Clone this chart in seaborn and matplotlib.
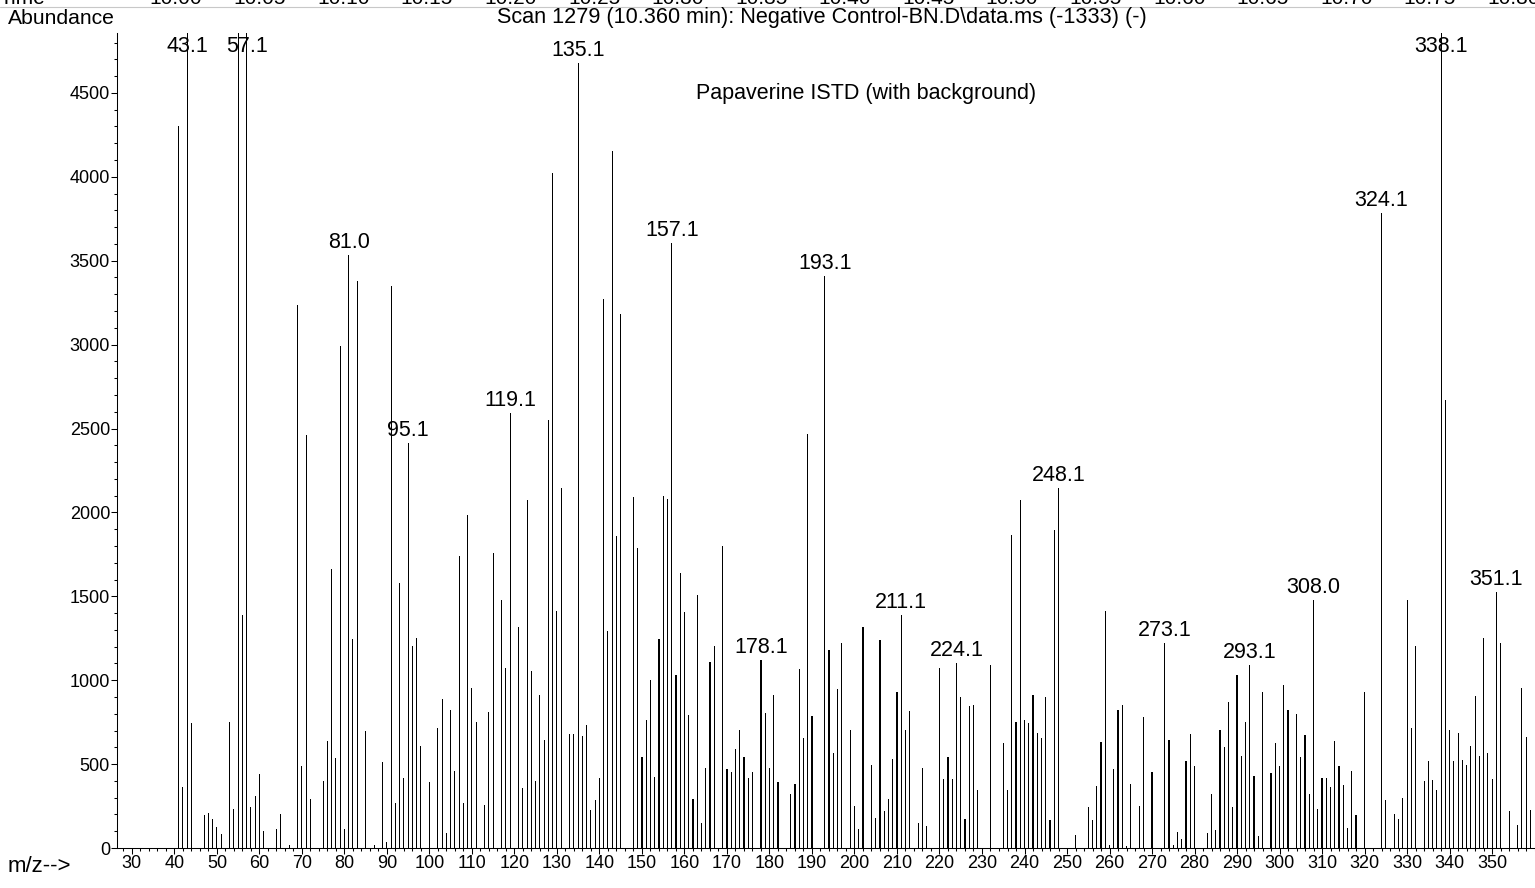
import numpy as np
import pandas as pd
import matplotlib
matplotlib.use("Agg")
import matplotlib.pyplot as plt
from matplotlib.ticker import MultipleLocator
from matplotlib.lines import Line2D
import seaborn as sns

# ---------------- data ----------------
mz = [41, 42, 43, 44, 47, 48, 49, 50, 51, 53, 54, 55, 56, 57, 58, 59, 60, 61, 64, 65,
      67, 69, 70, 71, 72, 75, 76, 77, 78, 79, 80, 81, 82, 83, 85, 87, 89, 90, 91, 92,
      93, 94, 95, 96, 97, 98, 100, 102, 103, 104, 105, 106, 107, 108, 109, 110, 111, 113, 114, 115,
      117, 118, 119, 121, 122, 123, 124, 125, 126, 127, 128, 129, 130, 131, 133, 134, 135, 136, 137, 138,
      139, 140, 141, 142, 143, 144, 145, 148, 149, 150, 151, 152, 153, 154, 155, 156, 157, 158, 159, 160,
      161, 162, 163, 164, 165, 166, 167, 169, 170, 171, 172, 173, 174, 175, 176, 178, 179, 180, 181, 182,
      185, 186, 187, 188, 189, 190, 193, 194, 195, 196, 197, 199, 200, 201, 202, 204, 205, 206, 207, 208,
      209, 210, 211, 212, 213, 215, 216, 217, 220, 221, 222, 223, 224, 225, 226, 227, 228, 229, 232, 235,
      236, 237, 238, 239, 240, 241, 242, 243, 244, 245, 246, 247, 248, 252, 255, 256, 257, 258, 259, 260,
      261, 262, 263, 264, 265, 267, 268, 270, 273, 274, 275, 276, 277, 278, 279, 280, 283, 284, 285, 286,
      287, 288, 289, 290, 291, 292, 293, 294, 295, 296, 298, 299, 300, 301, 302, 304, 305, 306, 307, 308,
      309, 310, 311, 312, 313, 314, 315, 316, 317, 318, 320, 324, 325, 327, 328, 329, 330, 331, 332, 334,
      335, 336, 337, 338, 339, 340, 341, 342, 343, 344, 345, 346, 347, 348, 349, 350, 351, 352, 354, 356,
      357, 358, 359]
abundance = [4300, 365, 6000, 745, 194, 210, 171, 123, 81, 748, 235, 6000, 1390, 6000, 245, 310, 439, 103, 116, 200,
             16, 3235, 487, 2461, 290, 397, 639, 1661, 535, 2994, 113, 3535, 1245, 3381, 697, 16, 510, 35, 3348, 271,
             1581, 419, 2413, 1203, 1252, 606, 394, 716, 890, 90, 823, 458, 1742, 271, 1987, 955, 748, 258, 810, 1761,
             1477, 1074, 2590, 1316, 355, 2074, 1052, 397, 913, 645, 2552, 4023, 1413, 2145, 677, 677, 4681, 665, 735, 229,
             284, 419, 3274, 1294, 4152, 1861, 3181, 2090, 1790, 542, 761, 1003, 426, 1245, 2100, 2081, 3606, 1032, 1639, 1406,
             790, 290, 1510, 148, 477, 1106, 1203, 1800, 471, 455, 590, 703, 542, 419, 452, 1123, 806, 477, 913, 394,
             323, 381, 1065, 655, 2468, 784, 3410, 1181, 568, 945, 1219, 703, 252, 116, 1316, 494, 181, 1242, 219, 290,
             529, 929, 1390, 703, 816, 148, 477, 132, 1074, 413, 542, 413, 1100, 897, 171, 848, 855, 348, 1090, 623,
             348, 1865, 752, 2074, 761, 745, 910, 687, 655, 897, 168, 1897, 2148, 77, 245, 165, 371, 632, 1413, 16,
             471, 823, 852, 10, 381, 248, 781, 452, 1219, 645, 16, 97, 52, 519, 681, 487, 90, 323, 106, 703,
             603, 871, 245, 1032, 548, 748, 1090, 429, 74, 932, 445, 623, 487, 974, 823, 800, 542, 671, 323, 1477,
             235, 419, 419, 361, 639, 490, 374, 119, 458, 194, 932, 3784, 287, 200, 171, 300, 1477, 716, 1203, 400,
             516, 403, 348, 6000, 2671, 703, 519, 684, 526, 497, 606, 903, 548, 1252, 568, 413, 1523, 1219, 219, 139,
             955, 661, 226]
peak_labels = ["43.1", "57.1", "81.0", "95.1", "119.1", "135.1", "157.1", "178.1", "193.1",
               "211.1", "224.1", "248.1", "273.1", "293.1", "308.0", "324.1", "338.1", "351.1"]
x_ticks = list(range(30, 351, 10))
y_ticks = list(range(0, 4501, 500))
time_labels = ["10.00", "10.05", "10.10", "10.15", "10.20", "10.25", "10.30", "10.35", "10.40",
               "10.45", "10.50", "10.55", "10.60", "10.65", "10.70", "10.75", "10.80"]
title_text = "Scan 1279 (10.360 min): Negative Control-BN.D\\data.ms (-1333) (-)"
note_text = "Papaverine ISTD (with background)"

# ---------------- style ----------------
sns.set_theme(style="ticks")
plt.rcParams['font.family'] = ['Liberation Sans', 'DejaVu Sans']

W, H = 1535, 888
fig = plt.figure(figsize=(W / 100, H / 100), dpi=100)
fig.patch.set_facecolor("white")

ax_left, ax_right, ax_top, ax_bottom = 117, 1535, 33, 848
ax = fig.add_axes([ax_left / W, 1 - ax_bottom / H, (ax_right - ax_left) / W, (ax_bottom - ax_top) / H])
ax.set_facecolor("white")

df = pd.DataFrame({"mz": mz, "abundance": abundance})
sns.barplot(data=df, x="mz", y="abundance", native_scale=True, width=0.26,
            color="black", saturation=1, errorbar=None, linewidth=0, ax=ax)

ax.set_xlim(26.5, 360.1)
ax.set_ylim(0, 4857)

for s in ["top", "right"]:
    ax.spines[s].set_visible(False)
for s in ["left", "bottom"]:
    ax.spines[s].set_color("black")
    ax.spines[s].set_linewidth(0.75)

ax.set_xticks(x_ticks)
ax.set_xticklabels([str(t) for t in x_ticks])
ax.xaxis.set_minor_locator(MultipleLocator(2))
ax.set_yticks(y_ticks)
ax.set_yticklabels([str(t) for t in y_ticks])
ax.yaxis.set_minor_locator(MultipleLocator(100))
ax.tick_params(axis="both", which="major", direction="out", length=4.0, width=0.75,
               color="black", labelsize=13, pad=1.0, labelcolor="black")
ax.tick_params(axis="both", which="minor", direction="out", length=2.2, width=0.75, color="black")
ax.set_xlabel("")
ax.set_ylabel("")
ax.grid(False)

# peak labels
ymax = ax.get_ylim()[1]
lab_vals = [float(l) for l in peak_labels]
for lab, v in zip(peak_labels, lab_vals):
    m = int(round(v))
    a = abundance[mz.index(m)]
    if a >= ymax:
        ax.annotate(lab, xy=(m, ymax), xytext=(0, -3), textcoords="offset pixels",
                    ha="center", va="top", fontsize=15.5, color="black")
    else:
        ax.annotate(lab, xy=(m, a), xytext=(0, 2), textcoords="offset pixels",
                    ha="center", va="bottom", fontsize=15.5, color="black")

# header texts
fig.text(8 / W, 1 - 18 / H, "Abundance", ha="left", va="center", fontsize=15.2, color="black")
fig.text(822 / W, 1 - 18 / H, title_text, ha="center", va="center", fontsize=15.6, color="black")
ax.text((866 - ax_left) / (ax_right - ax_left), (ax_bottom - 93) / (ax_bottom - ax_top), note_text,
        transform=ax.transAxes, ha="center", va="center", fontsize=15.5, color="black")
fig.text(8 / W, 1 - 866 / H, "m/z-->", ha="left", va="center", fontsize=16, color="black")

# cut-off time axis row at the very top
fig.text(0 / W, 1 - 4 / H, "Time", ha="left", va="baseline", fontsize=15, color="black")
for i, t in enumerate(time_labels):
    fig.text((176 + i * 83.6) / W, 1 - 4 / H, t, ha="center", va="baseline", fontsize=15, color="black")
fig.add_artist(Line2D([0, 1], [1 - 7 / H, 1 - 7 / H], transform=fig.transFigure,
                      color="#c8c8c8", linewidth=0.8))

fig.savefig("out.png", dpi=100, facecolor="white")
